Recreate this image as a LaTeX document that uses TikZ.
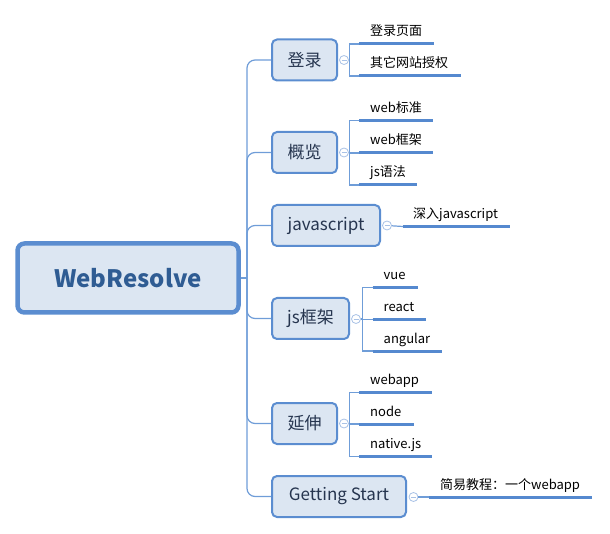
\documentclass[tikz,border=0pt]{standalone}
\usepackage{fontspec}
\setmainfont{Noto Sans CJK SC}
\definecolor{boxline}{HTML}{5B8DD0}
\definecolor{boxfill}{HTML}{DCE6F2}
\definecolor{thinline}{HTML}{6F9DD8}
\definecolor{uline}{HTML}{5589CF}
\definecolor{roottext}{HTML}{2F5C93}
\definecolor{branchtext}{HTML}{26354F}
\definecolor{circline}{HTML}{A9C2E6}
\tikzset{
  rootbox/.style={draw=boxline, fill=boxfill, line width=4.5pt, rounded corners=7pt,
    minimum width=221pt, minimum height=69pt, inner sep=0pt,
    font=\fontsize{24}{28}\selectfont\bfseries, text=roottext},
  branchbox/.style={draw=boxline, fill=boxfill, line width=2pt, rounded corners=5pt,
    minimum height=41pt, inner sep=0pt,
    font=\fontsize{17}{20}\selectfont, text=branchtext},
  foldmark/.style={circle, draw=circline, fill=white, line width=0.8pt, minimum size=9pt, inner sep=0pt,
    path picture={\draw[circline, line width=0.8pt] ([xshift=-2.5pt]path picture bounding box.center) -- ([xshift=2.5pt]path picture bounding box.center);}},
  conn/.style={draw=thinline, line width=1.2pt},
  ulinestyle/.style={draw=uline, line width=3pt},
  leaftext/.style={anchor=base west, inner sep=0pt, font=\fontsize{13}{15}\selectfont, text=black},
}
\newcommand\myleaf[6]{% name, fork coordinate, x1, x2, y, text
  \coordinate (#1a) at (#3,#5);
  \coordinate (#1b) at (#4,#5);
  \node[leaftext] (#1t) at (#3+11,#5-8) {#6};
  \draw[conn] (#2) |- (#1a);
  \draw[ulinestyle] (#1a) -- (#1b);
}
\begin{document}
\begin{tikzpicture}[x=1pt,y=-1pt]
\useasboundingbox (0,0) rectangle (610,534);

% root
\node[rootbox] (root) at (128,278) {WebResolve};
\coordinate (trunk) at (247,278);

% branches
\node[branchbox, minimum width=65pt] (b1) at (304.5,60) {登录};
\node[branchbox, minimum width=65pt] (b2) at (304.5,152.5) {概览};
\node[branchbox, minimum width=108pt] (b3) at (326,225.5) {javascript};
\node[branchbox, minimum width=77pt] (b4) at (310.5,318.5) {js框架};
\node[branchbox, minimum width=65pt] (b5) at (304.5,423.5) {延伸};
\node[branchbox, minimum width=134pt] (b6) at (339,496.5) {Getting Start};

\draw[conn] (root.east) -- (trunk);
\foreach \b in {b1,b2,b3,b4,b5,b6}{
  \draw[conn, rounded corners=8pt] (trunk) |- (\b.west);
}

% fold marks
\node[foldmark] (c1) at (344,60) {};
\node[foldmark] (c2) at (344,152.5) {};
\node[foldmark] (c3) at (387,225.5) {};
\node[foldmark] (c4) at (356,319) {};
\node[foldmark] (c5) at (344,423.5) {};
\node[foldmark] (c6) at (413.5,497) {};

% forks
\coordinate (f1) at (349.5,60);
\coordinate (f2) at (349.5,152.5);
\coordinate (f4) at (362.5,319);
\coordinate (f5) at (349.5,423.5);
\draw[conn] (c1) -- (f1);
\draw[conn] (c2) -- (f2);
\draw[conn] (c4) -- (f4);
\draw[conn] (c5) -- (f5);

% leaves
\myleaf{l11}{f1}{359}{434}{44}{登录页面}
\myleaf{l12}{f1}{359}{461}{76}{其它网站授权}
\myleaf{l21}{f2}{359}{433}{120.5}{web标准}
\myleaf{l22}{f2}{359}{433}{153}{web框架}
\myleaf{l23}{f2}{359}{417}{185}{js语法}

\coordinate (l31a) at (403,226.5);
\coordinate (l31b) at (510,226.5);
\node[leaftext] (l31t) at (413,218.5) {深入javascript};
\draw[conn] (c3) -- (l31a);
\draw[ulinestyle] (l31a) -- (l31b);

\myleaf{l41}{f4}{372.5}{418}{287.5}{vue}
\myleaf{l42}{f4}{372.5}{426}{319.5}{react}
\myleaf{l43}{f4}{372.5}{441.5}{351}{angular}

\myleaf{l51}{f5}{359}{431.5}{392.5}{webapp}
\myleaf{l52}{f5}{359}{414}{424}{node}
\myleaf{l53}{f5}{359}{432}{456.5}{native.js}

\coordinate (l61a) at (429,497);
\coordinate (l61b) at (592,497);
\node[leaftext] (l61t) at (440,489) {简易教程：一个webapp};
\draw[conn] (c6) -- (l61a);
\draw[ulinestyle] (l61a) -- (l61b);
\end{tikzpicture}
\end{document}
